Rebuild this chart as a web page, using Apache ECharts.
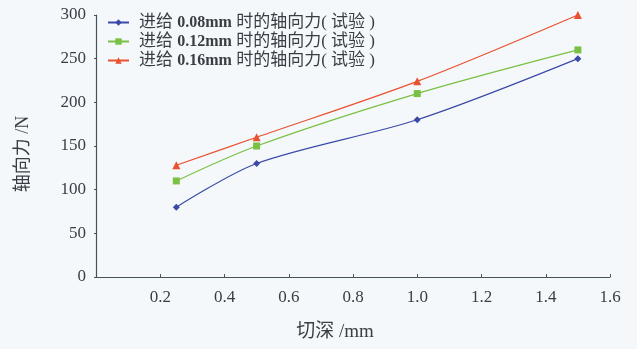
<!DOCTYPE html>
<html>
<head>
<meta charset="utf-8">
<script src="https://cdn.jsdelivr.net/npm/echarts@6/dist/echarts.min.js"></script>
<style>
  html, body { margin: 0; padding: 0; background: #f5f8fb; }
  #chart { width: 637px; height: 349px; }
</style>
</head>
<body>
<div id="chart"></div>
<script>
// Cutting depth (mm) and measured axial force (N) at three feed rates
const depth = [0.25, 0.5, 1.0, 1.5];
const force008 = [80, 130, 180, 250];
const force012 = [110, 150, 210, 260];
const force016 = [128, 160, 224, 300];
const feeds = ['0.08mm', '0.12mm', '0.16mm'];
const seriesNames = feeds.map(f => '进给 ' + f + ' 时的轴向力( 试验 )');
const xTicks = [0.2, 0.4, 0.6, 0.8, 1.0, 1.2, 1.4, 1.6];

const serif = "'Liberation Serif', 'DejaVu Serif', 'Noto Sans CJK SC', serif";
const textColor = '#3a3d44';

function pairs(ys) { return depth.map((x, i) => [x, ys[i]]); }

const chart = echarts.init(document.getElementById('chart'), null, { renderer: 'canvas' });

const lineSeries = [
  { name: seriesNames[0], data: pairs(force008), color: '#3b4aa6', symbol: 'diamond', size: 7 },
  { name: seriesNames[1], data: pairs(force012), color: '#79c043', symbol: 'rect', size: 7 },
  { name: seriesNames[2], data: pairs(force016), color: '#e9512f', symbol: 'triangle', size: 8 }
].map(s => ({
  name: s.name,
  type: 'line',
  data: s.data,
  smooth: 0.3,
  symbol: s.symbol,
  symbolSize: s.size,
  itemStyle: { color: s.color },
  lineStyle: { color: s.color, width: 1.2 }
}));

chart.setOption({
  backgroundColor: '#f5f8fb',
  animation: false,
  grid: { left: 96, right: 27, top: 15, bottom: 72 },
  legend: {
    orient: 'vertical',
    left: 107,
    top: 13,
    padding: 0,
    itemGap: 0,
    itemWidth: 21,
    itemHeight: 8,
    formatter: name => {
      const i = seriesNames.indexOf(name);
      return '{c|进给 }{n|' + feeds[i] + '}{c| 时的轴向力( 试验 )}';
    },
    textStyle: {
      fontFamily: serif, fontSize: 17, lineHeight: 19, color: textColor, padding: [0, 0, 0, 5],
      rich: {
        c: { fontFamily: serif, fontSize: 17, lineHeight: 19, color: textColor },
        n: { fontFamily: serif, fontSize: 16, lineHeight: 19, color: textColor, fontWeight: 'bold' }
      }
    },
    data: seriesNames
  },
  xAxis: {
    type: 'value',
    min: 0,
    max: 1.6,
    interval: 0.2,
    name: '切深 /mm',
    nameLocation: 'middle',
    nameGap: 46,
    nameTextStyle: { fontFamily: serif, fontSize: 19, color: textColor, padding: [0, 36, 0, 0] },
    axisLine: { lineStyle: { color: '#44525a', width: 1.2 } },
    axisTick: { inside: true, length: 3, lineStyle: { color: '#44525a' } },
    splitLine: { show: false },
    axisLabel: {
      fontFamily: serif, fontSize: 17, color: textColor, margin: 12,
      formatter: v => {
        const t = xTicks.find(k => Math.abs(k - v) < 1e-6);
        return t === undefined ? '' : t.toFixed(1);
      }
    }
  },
  yAxis: {
    type: 'value',
    min: 0,
    max: 300,
    interval: 50,
    name: '轴向力 /N',
    nameLocation: 'middle',
    nameGap: 64,
    nameRotate: 90,
    nameTextStyle: { fontFamily: serif, fontSize: 18, color: textColor, padding: [0, 16, 0, 0] },
    axisLine: { show: true, lineStyle: { color: '#44525a', width: 1.2 } },
    axisTick: { show: true, inside: false, length: 2, lineStyle: { color: '#44525a' } },
    splitLine: { show: false },
    axisLabel: { fontFamily: serif, fontSize: 17, color: textColor, margin: 10 }
  },
  series: lineSeries
});
</script>
</body>
</html>
